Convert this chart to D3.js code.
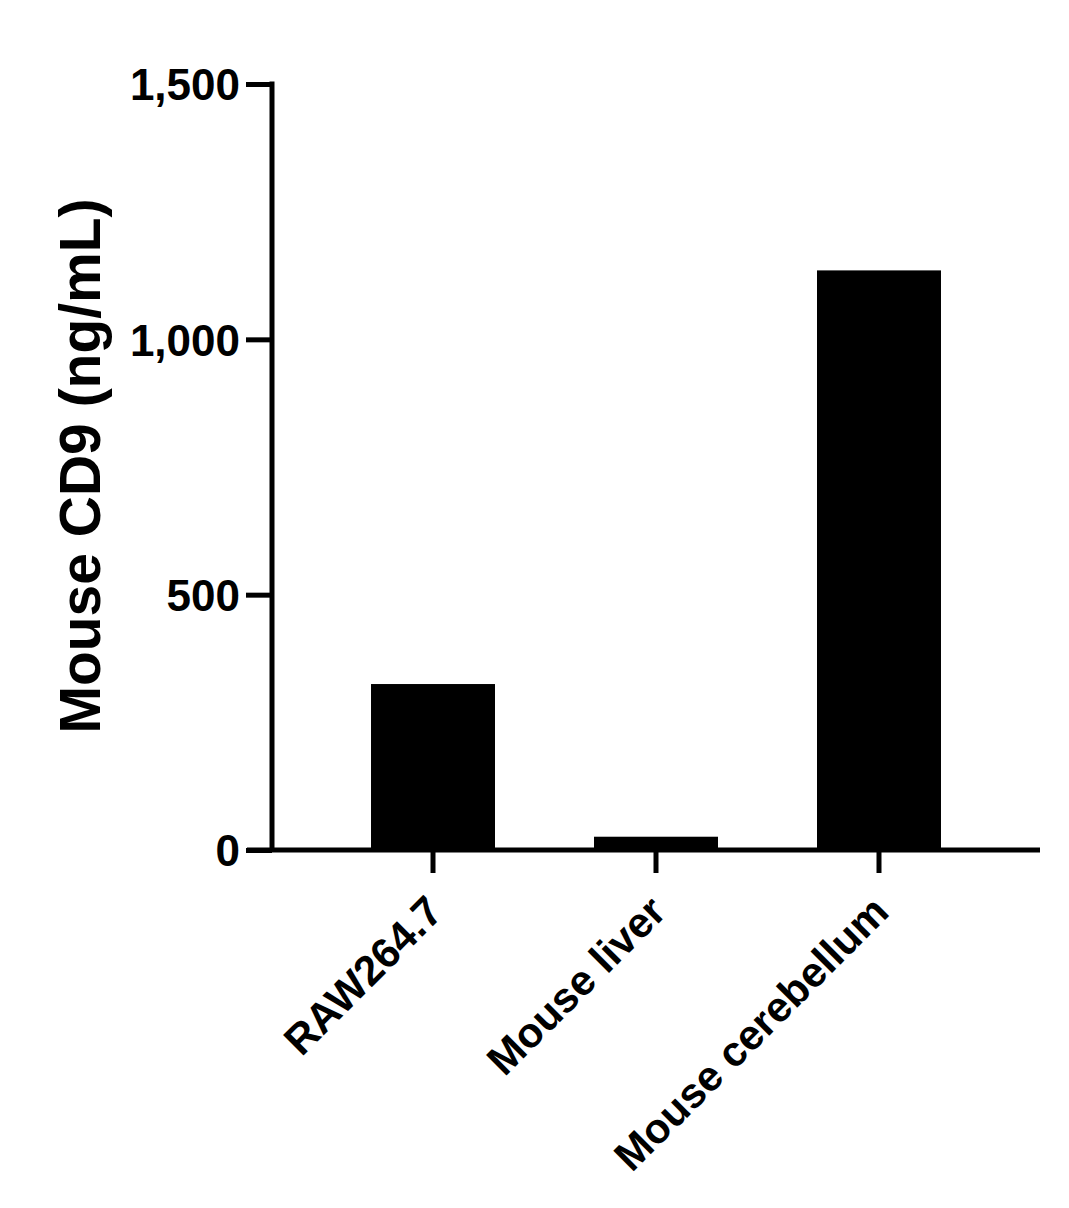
<!DOCTYPE html>
<html>
<head>
<meta charset="utf-8">
<script src="https://d3js.org/d3.v7.min.js"></script>
<style>
  body { margin: 0; background: #fff; }
  text { font-family: "Liberation Sans", Arial, sans-serif; font-weight: bold; fill: #000; }
</style>
</head>
<body>
<svg width="1069" height="1208"></svg>
<script>
  // data
  var categories = ["RAW264.7", "Mouse liver", "Mouse cerebellum"];
  var values = [325, 26, 1135];
  var yTicks = [0, 500, 1000, 1500];
  var yTitle = "Mouse CD9 (ng/mL)";

  var svg = d3.select("svg");
  var plotLeft = 272, plotRight = 1040, plotTop = 84, plotBottom = 850;

  var xscale = d3.scaleBand()
    .domain(categories)
    .range([plotLeft, plotRight])
    .paddingInner(0.444)
    .paddingOuter(0.444);

  var yscale = d3.scaleLinear()
    .domain([0, 1500])
    .range([plotBottom, plotTop]);

  // bars
  svg.append("g").selectAll("rect")
    .data(values).enter().append("rect")
    .attr("x", function(d, i) { return xscale(categories[i]); })
    .attr("y", function(d) { return yscale(d); })
    .attr("width", xscale.bandwidth())
    .attr("height", function(d) { return yscale(0) - yscale(d); })
    .attr("fill", "#000");

  // y axis
  var gy = svg.append("g")
    .attr("transform", "translate(" + plotLeft + ",0)")
    .call(d3.axisLeft(yscale).tickValues(yTicks).tickFormat(d3.format(",")).tickSize(26).tickPadding(6).tickSizeOuter(0));
  gy.select(".domain").attr("stroke", "#000").attr("stroke-width", 5).attr("d", "M0," + (plotTop - 2.5) + "V" + plotBottom);
  gy.selectAll(".tick line").attr("stroke", "#000").attr("stroke-width", 5);
  gy.selectAll(".tick text").style("font-size", "44px").attr("dy", "0.36em");

  // x axis
  var gx = svg.append("g")
    .attr("transform", "translate(0," + plotBottom + ")")
    .call(d3.axisBottom(xscale).tickSize(23).tickSizeOuter(0));
  gx.select(".domain").attr("stroke", "#000").attr("stroke-width", 5).attr("d", "M" + (plotLeft - 25) + ",0H" + plotRight);
  gx.selectAll(".tick line").attr("stroke", "#000").attr("stroke-width", 5);
  gx.selectAll(".tick text")
    .style("font-size", "42px")
    .attr("text-anchor", "end")
    .attr("dy", null)
    .attr("y", 0)
    .attr("transform", "translate(12,64) rotate(-45)");

  // y title
  svg.append("text")
    .attr("transform", "translate(100,466) rotate(-90)")
    .attr("text-anchor", "middle")
    .style("font-size", "57px")
    .text(yTitle);
</script>
</body>
</html>
